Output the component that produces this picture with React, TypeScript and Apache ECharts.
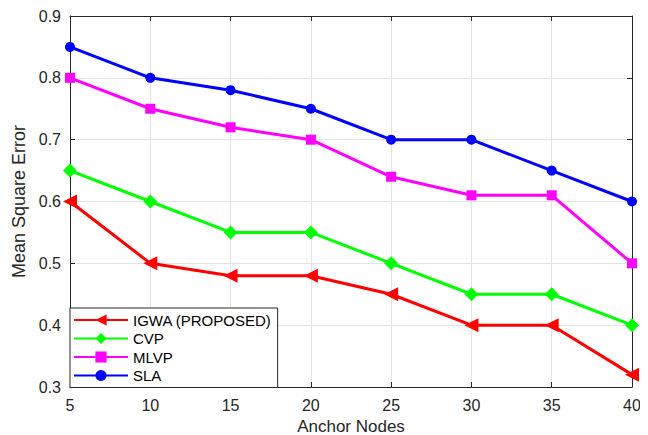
import React, { useEffect, useRef } from "react";
import * as echarts from "echarts";

const anchorNodes = [5, 10, 15, 20, 25, 30, 35, 40];
const igwa = [0.6, 0.5, 0.48, 0.48, 0.45, 0.4, 0.4, 0.32];
const cvp = [0.65, 0.6, 0.55, 0.55, 0.5, 0.45, 0.45, 0.4];
const mlvp = [0.8, 0.75, 0.72, 0.7, 0.64, 0.61, 0.61, 0.5];
const sla = [0.85, 0.8, 0.78, 0.75, 0.7, 0.7, 0.65, 0.6];

const seriesNames = ["IGWA (PROPOSED)", "CVP", "MLVP", "SLA"];
const seriesColors = ["#ff0000", "#00ff00", "#ff00ff", "#0000ff"];

const FONT = "Liberation Sans, Arial, sans-serif";
const AX = "#262626";

export default function App() {
  const ref = useRef<HTMLDivElement>(null);
  useEffect(() => {
    const chart = echarts.init(ref.current!, null, { renderer: "svg" });
    const pair = (arr: number[]) => anchorNodes.map((x, i) => [x, arr[i]]);
    const specs = [
      { data: igwa, symbol: "triangle", size: 14, rotate: 90 },
      { data: cvp, symbol: "diamond", size: 14, rotate: 0 },
      { data: mlvp, symbol: "rect", size: 10, rotate: 0 },
      { data: sla, symbol: "circle", size: 10, rotate: 0 },
    ];
    chart.setOption({
      animation: false,
      backgroundColor: "#ffffff",
      grid: { left: 62, right: 16, top: 8, bottom: 48, outerBoundsMode: "none", containLabel: false },
      legend: {
        data: seriesNames.map((n) => ({ name: n })),
        orient: "vertical",
        left: 62,
        top: 300,
        itemWidth: 54,
        itemHeight: 14,
        itemGap: 2.5,
        padding: [4, 6, 4, 3],
        backgroundColor: "#ffffff",
        borderColor: AX,
        borderWidth: 1,
        textStyle: { fontFamily: FONT, fontSize: 15, lineHeight: 16, color: "#000" },
      },
      xAxis: [
        {
          type: "value",
          min: 5,
          max: 40,
          interval: 5,
          name: "Anchor Nodes",
          nameLocation: "middle",
          nameGap: 28,
          nameTextStyle: { fontFamily: FONT, fontSize: 17, lineHeight: 17, color: AX },
          axisLine: { lineStyle: { color: AX, width: 1 } },
          axisTick: { inside: true, length: 5, lineStyle: { color: AX } },
          axisLabel: { fontFamily: FONT, fontSize: 16, color: AX, margin: 10 },
          splitLine: { show: true, lineStyle: { color: "#e3e3e3", width: 1 } },
        },
        {
          type: "value",
          position: "top",
          min: 5,
          max: 40,
          interval: 5,
          axisLine: { show: true, onZero: false, lineStyle: { color: AX, width: 1 } },
          axisTick: { show: true, inside: true, length: 5, lineStyle: { color: AX } },
          axisLabel: { show: false },
          splitLine: { show: false },
        },
      ],
      yAxis: [
        {
          type: "value",
          min: 0.3,
          max: 0.9,
          interval: 0.1,
          name: "Mean Square Error",
          nameLocation: "middle",
          nameGap: 39,
          nameTextStyle: { fontFamily: FONT, fontSize: 18, color: AX },
          axisLine: { show: true, lineStyle: { color: AX, width: 1 } },
          axisTick: { show: true, inside: true, length: 5, lineStyle: { color: AX } },
          axisLabel: {
            fontFamily: FONT,
            fontSize: 16,
            color: AX,
            margin: 9,
            formatter: (v: number) => v.toFixed(1),
          },
          splitLine: { show: true, lineStyle: { color: "#e3e3e3", width: 1 } },
        },
        {
          type: "value",
          position: "right",
          min: 0.3,
          max: 0.9,
          interval: 0.1,
          axisLine: { show: true, onZero: false, lineStyle: { color: AX, width: 1 } },
          axisTick: { show: true, inside: true, length: 5, lineStyle: { color: AX } },
          axisLabel: { show: false },
          splitLine: { show: false },
        },
      ],
      series: specs.map((s, i) => ({
        name: seriesNames[i],
        type: "line",
        data: pair(s.data),
        symbol: s.symbol,
        symbolSize: s.size,
        symbolRotate: s.rotate,
        showAllSymbol: true,
        color: seriesColors[i],
        itemStyle: { color: seriesColors[i] },
        lineStyle: { color: seriesColors[i], width: 3 },
        z: 10 + i,
      })),
    });
    return () => chart.dispose();
  }, []);
  return <div ref={ref} style={{ width: 640, height: 427 }} />;
}
